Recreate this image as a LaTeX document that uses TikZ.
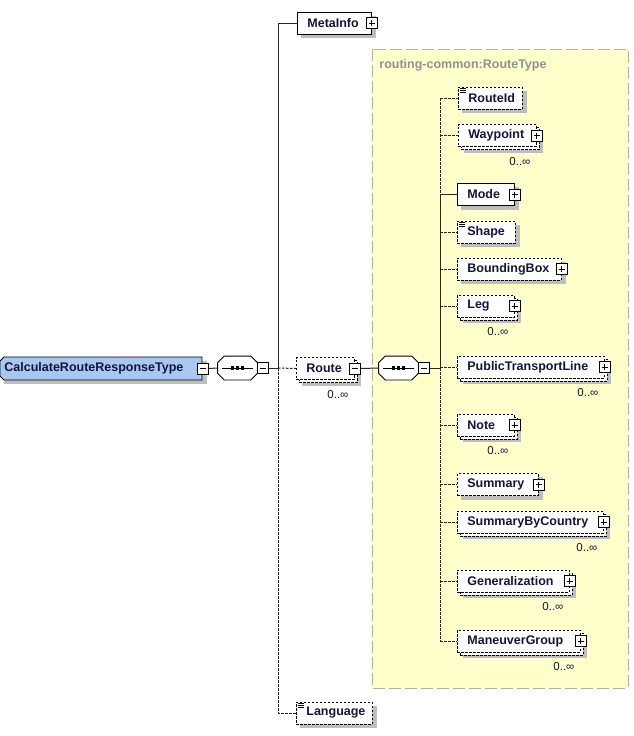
\documentclass[tikz,border=0pt]{standalone}
\usepackage{fontspec}
\setmainfont{Liberation Sans}
\usetikzlibrary{shadows,backgrounds}

\definecolor{elemtext}{RGB}{20,20,60}
\definecolor{rootblue}{RGB}{168,200,240}
\definecolor{typefill}{RGB}{255,255,204}
\definecolor{typeline}{RGB}{178,178,158}
\definecolor{typegray}{RGB}{145,145,145}
\definecolor{shadowgray}{RGB}{190,190,190}

\newcommand\elemfont{\fontsize{12.5}{14}\selectfont\bfseries}
\newcommand\occfont{\fontsize{11.5}{13}\selectfont}

\tikzset{
  elem/.style={draw, fill=white, anchor=west, minimum height=22pt, inner xsep=10pt, inner ysep=0pt,
    align=left, text=elemtext, font=\elemfont},
  tw/.style={text width=#1pt},
  opt/.style={dash pattern=on 2.5pt off 1.5pt},
  many/.style={copy shadow={shadow xshift=3pt, shadow yshift=-3pt, draw, fill=white, dash pattern=on 2.5pt off 1.5pt}},
  rootshape/.style={draw, fill=rootblue},
  rootelem/.style={anchor=west, minimum width=202pt, minimum height=23pt, inner xsep=4pt, inner ysep=0pt,
    text width=194pt, align=left, text=elemtext, font=\elemfont},
  seq/.style={minimum width=39pt, minimum height=23pt, inner sep=0pt},
  seqline/.style={draw, fill=white},
  pm/.style={draw, fill=white, solid, minimum size=11pt, inner sep=0pt},
  plusbox/.style={pm, path picture={
      \draw ([xshift=-3pt]path picture bounding box.center) -- ([xshift=3pt]path picture bounding box.center);
      \draw ([yshift=-3pt]path picture bounding box.center) -- ([yshift=3pt]path picture bounding box.center);
    }},
  minusbox/.style={pm, path picture={
      \draw ([xshift=-3pt]path picture bounding box.center) -- ([xshift=3pt]path picture bounding box.center);
    }},
  textmark/.style={line width=0.7pt, solid},
  conn/.style={line width=1pt, black!85},
  occ/.style={font=\occfont, text=elemtext, inner sep=0pt, anchor=north east},
  typebox/.style={fill=typefill, draw=typeline, line width=1pt, dash pattern=on 12pt off 4pt},
  typename/.style={anchor=west, inner sep=0pt, font=\elemfont, text=typegray},
  boxshadow/.style={fill=shadowgray}
}

\begin{document}
\begin{tikzpicture}[x=1pt, y=-1pt, line width=0.8pt]
    \useasboundingbox (0,0) rectangle (633,736);

    \node[typename] (typeName) at (379,65) {routing-common:RouteType};

    % root element
    \filldraw[rootshape] (4,357) -- (202,357) -- (202,380) -- (4,380) -- (0,376) -- (0,361) -- cycle;
    \node[rootelem] (root) at (0,368.5) {CalculateRouteResponseType};
    \node[minusbox] (rootPm) at (root.east) {};

    % the two sequences
    \foreach \s/\x in {seqTop/237.5, seqRoute/398.5} {
        \node[seq] (\s) at (\x,368) {};
        \filldraw[seqline] ([xshift=6.5pt]\s.north west) -- ([xshift=-6.5pt]\s.north east)
            -- ([yshift=-6.5pt]\s.north east) -- ([yshift=6.5pt]\s.south east)
            -- ([xshift=-6.5pt]\s.south east) -- ([xshift=6.5pt]\s.south west)
            -- ([yshift=6.5pt]\s.south west) -- ([yshift=-6.5pt]\s.north west) -- cycle;
        \draw ([xshift=4pt]\s.west) -- ([xshift=-4pt]\s.east);
        \foreach \d in {-5,0,5}
            \fill ([xshift=\d pt]\s.center) +(-1.75pt,-1.75pt) rectangle +(1.75pt,1.75pt);
        \node[minusbox, anchor=west] (\s Pm) at (\s.east) {};
    }

    \node[elem] (metaInfo) at (297,23) [tw=54] {MetaInfo};
    \node[elem, opt, many] (route) at (296,368.5) [tw=38] {Route};
    \node[elem, opt] (language) at (296,713) [tw=56] {Language};
    \node[minusbox] (routePm) at (route.east) {};

    % children of RouteType
    \node[elem, opt] (routeId) at (458,98) [tw=44] {RouteId};
    \node[elem, opt, many] (waypoint) at (458,135.5) [tw=58] {Waypoint};
    \node[elem] (mode) at (457,194.5) [tw=37] {Mode};
    \node[elem, opt] (shapeElem) at (457,232) [tw=38] {Shape};
    \node[elem, opt] (boundingBox) at (457,269) [tw=84] {BoundingBox};
    \node[elem, opt, many] (leg) at (457,306) [tw=37] {Leg};
    \node[elem, opt, many] (ptLine) at (457,367) [tw=127] {PublicTransportLine};
    \node[elem, opt, many] (note) at (457,425) [tw=37] {Note};
    \node[elem, opt] (summary) at (457,484.5) [tw=61] {Summary};
    \node[elem, opt, many] (sumCountry) at (457,522) [tw=126] {SummaryByCountry};
    \node[elem, opt, many] (generalization) at (457,581) [tw=92] {Generalization};
    \node[elem, opt, many] (maneuverGroup) at (457,641) [tw=103] {ManeuverGroup};

    \foreach \c in {metaInfo,waypoint,mode,boundingBox,leg,ptLine,note,summary,sumCountry,generalization,maneuverGroup}
        \node[plusbox] (\c Pm) at (\c.east) {};
    \foreach \c in {routeId,shapeElem,language}
        \foreach \k in {1.5,3.5,5.5}
            \draw[textmark] ([xshift=2pt,yshift=-\k pt]\c.north west) -- ++(6pt,0);
    \foreach \c in {route,waypoint,leg,ptLine,note,sumCountry,generalization,maneuverGroup}
        \node[occ] (\c Occ) at ([xshift=-6pt,yshift=-10pt]\c.south east) {0..∞};

    % connectors of the root sequence
    \coordinate (rootBusTop) at (278,23);
    \coordinate (rootBusMid) at (278,368);
    \coordinate (rootBusBot) at (278,713);
    \draw[conn] (rootPm.east) -- (seqTop.west);
    \draw[conn] (seqTopPm.east) -- (rootBusMid);
    \draw[conn] (rootBusMid) -- (rootBusTop) -- (metaInfo.west);
    \draw[conn, opt] (rootBusMid) -- (rootBusBot) -- (language.west);
    \draw[conn, opt] (rootBusMid) -- (route.west);

    % connectors of the RouteType sequence
    \coordinate (busTop) at (440,98);
    \coordinate (busMode) at (440,194.5);
    \coordinate (busMid) at (440,368);
    \coordinate (busBot) at (440,641);
    \draw[conn] (routePm.east) -- (seqRoute.west);
    \draw[conn] (seqRoutePm.east) -- (busMid);
    \draw[conn, opt] (busTop) -- (busMode);
    \draw[conn] (busMode) -- (busMid);
    \draw[conn, opt] (busMid) -- (busBot);
    \draw[conn] (busMode) -- (mode.west);
    \foreach \c in {routeId,waypoint,shapeElem,boundingBox,leg,ptLine,note,summary,sumCountry,generalization,maneuverGroup}
        \draw[conn, opt] (\c.west -| busTop) -- (\c.west);

    % type box and shadows behind everything
    \begin{scope}[on background layer]
        \filldraw[typebox] (372,49) rectangle (628,688);
        \foreach \c in {root,metaInfo,language,routeId,mode,shapeElem,boundingBox,summary}
            \fill[boxshadow] ([xshift=4pt,yshift=-4pt]\c.south west) rectangle ([xshift=4pt,yshift=-4pt]\c.north east);
        \foreach \c in {route,waypoint,leg,ptLine,note,sumCountry,generalization,maneuverGroup}
            \fill[boxshadow] ([xshift=6pt,yshift=-6pt]\c.south west) rectangle ([xshift=6pt,yshift=-6pt]\c.north east);
    \end{scope}
\end{tikzpicture}
\end{document}
